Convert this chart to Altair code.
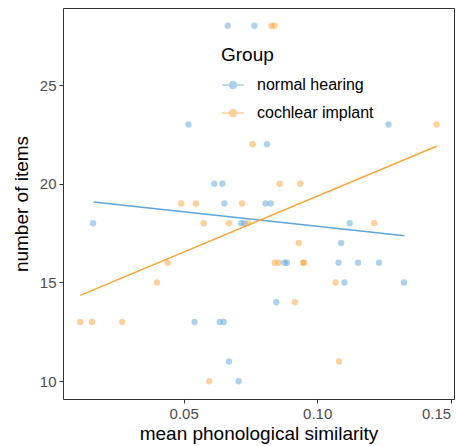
import altair as alt
import pandas as pd

groups = ["normal hearing", "cochlear implant"]

nh_x = [0.0665, 0.0765, 0.0518, 0.1267, 0.0812, 0.0615, 0.0645, 0.0653, 0.0807, 0.0826,
        0.0161, 0.0715, 0.0728, 0.1122, 0.1090, 0.0878, 0.0887, 0.1080, 0.1153, 0.1232,
        0.1102, 0.1325, 0.0847, 0.0541, 0.0635, 0.0650, 0.0670, 0.0706]
nh_y = [28, 28, 23, 23, 22, 20, 20, 19, 19, 19,
        18, 18, 18, 18, 17, 16, 16, 16, 16, 16,
        15, 15, 14, 13, 13, 13, 11, 10]

ci_x = [0.0829, 0.0840, 0.1447, 0.0758, 0.0860, 0.0937, 0.0491, 0.0546, 0.0719, 0.0575,
        0.0669, 0.0741, 0.1214, 0.0931, 0.0440, 0.0841, 0.0856, 0.0947, 0.0951, 0.0400,
        0.1069, 0.0917, 0.0113, 0.0157, 0.0270, 0.1082, 0.0596]
ci_y = [28, 28, 23, 22, 20, 20, 19, 19, 19, 18,
        18, 18, 18, 17, 16, 16, 16, 16, 16, 15,
        15, 14, 13, 13, 13, 11, 10]

# fitted trend lines (endpoints)
nh_fit_x = [0.0163, 0.1327]
nh_fit_y = [19.08, 17.37]
ci_fit_x = [0.0113, 0.1449]
ci_fit_y = [14.35, 21.91]

x_ticks = [0.05, 0.10, 0.15]
y_ticks = [10, 15, 20, 25]

df = pd.DataFrame({
    "sim": nh_x + ci_x,
    "items": nh_y + ci_y,
    "Group": [groups[0]] * len(nh_x) + [groups[1]] * len(ci_x),
})
fit_df = pd.DataFrame({
    "sim": nh_fit_x + ci_fit_x,
    "items": nh_fit_y + ci_fit_y,
    "Group": [groups[0]] * len(nh_fit_x) + [groups[1]] * len(ci_fit_x),
})

colors = ["#5DA5DA", "#FAA43A"]
FONT = "Liberation Sans"

legend_symbol = "M-1,0L1,0M-0.32,0A0.32,0.32,0,1,1,0.32,0A0.32,0.32,0,1,1,-0.32,0Z"

color_enc = alt.Color(
    "Group:N",
    scale=alt.Scale(domain=groups, range=colors),
    legend=alt.Legend(
        orient="none", legendX=158, legendY=38,
        title="Group", titleFontSize=19, titleFontWeight="normal", titleColor="black",
        titleFont=FONT, titlePadding=8,
        labelFontSize=16, labelFont=FONT, labelColor="black", labelOffset=12,
        symbolType=legend_symbol, symbolSize=484, symbolStrokeWidth=1.5,
        rowPadding=8,
    ),
)

x_enc = alt.X(
    "sim:Q",
    scale=alt.Scale(domain=[0.00483, 0.15124], nice=False, zero=False),
    axis=alt.Axis(values=x_ticks, format=".2f", title="mean phonological similarity",
                  labelFlush=10),
)
y_enc = alt.Y(
    "items:Q",
    scale=alt.Scale(domain=[9.1, 28.9], nice=False, zero=False),
    axis=alt.Axis(values=y_ticks, title="number of items"),
)

points = alt.Chart(df).mark_circle(size=40, opacity=0.5).encode(
    x=x_enc, y=y_enc, color=color_enc
)

lines = alt.Chart(fit_df).mark_line(strokeWidth=1.5).encode(
    x="sim:Q", y="items:Q",
    color=alt.Color("Group:N", scale=alt.Scale(domain=groups, range=colors), legend=None),
    detail="Group:N",
)

chart = alt.layer(points, lines).properties(
    width=391, height=391,
    autosize=alt.AutoSizeParams(type="none"),
    padding={"left": 55, "top": 0, "right": 4, "bottom": 46},
).configure_view(
    stroke="#333333", strokeWidth=1
).configure_axis(
    grid=False, domain=False,
    tickColor="#333333", tickSize=4, tickWidth=1,
    labelColor="#4D4D4D", labelFontSize=15, labelFont=FONT, labelPadding=3,
    titleColor="black", titleFontSize=19, titleFont=FONT, titleFontWeight="normal",
).configure_axisX(titlePadding=3).configure_axisY(titlePadding=8)

chart.save("out.html", embed_options={"renderer": "svg", "actions": False})
